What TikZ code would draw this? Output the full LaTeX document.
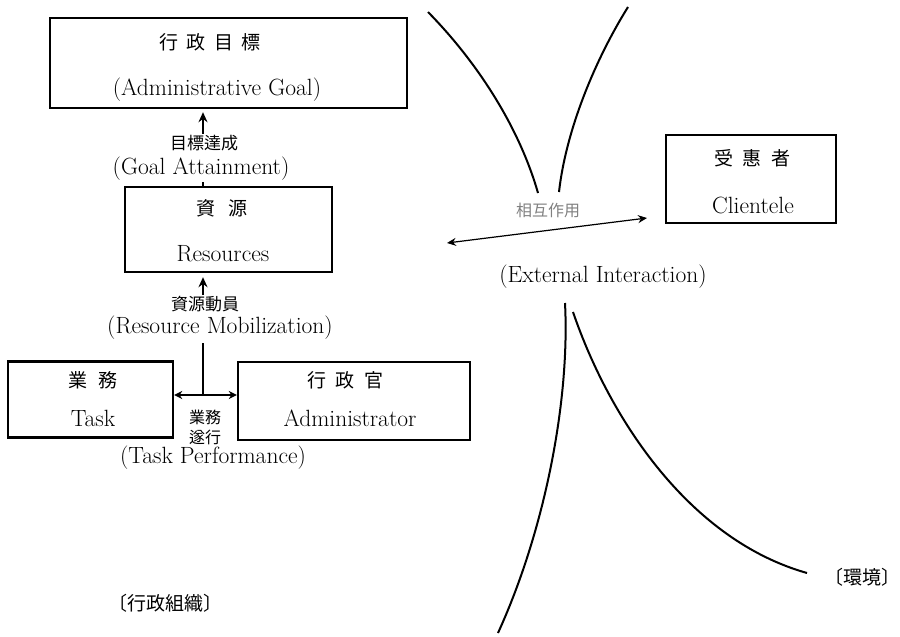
\documentclass[tikz,border=0pt]{standalone}
\usepackage{fontspec}
\newfontfamily\cjk{Noto Sans CJK KR}
\usetikzlibrary{arrows.meta}
\begin{document}
\begin{tikzpicture}[x=1pt,y=-1pt,
  box/.style={draw,line width=2.4pt,inner sep=0pt},
  lbl/.style={inner sep=0pt,font=\fontsize{23.5}{26}\selectfont},
  cj/.style={inner sep=0pt,font=\cjk\fontsize{19}{21}\selectfont},
  cjl/.style={inner sep=0pt,font=\cjk\fontsize{17}{19}\selectfont},
  cjs/.style={inner sep=0pt,font=\cjk\fontsize{16}{18}\selectfont},
  conn/.style={line width=1.6pt},
  arr/.style={line width=1.6pt,-{Stealth[length=10pt,width=9pt]}},
  curve/.style={line width=2pt}]
\useasboundingbox (0,0) rectangle (900,637);
% boxes
\node[box,minimum width=357pt,minimum height=90pt] (goal) at (228.5,63) {};
\node[box,minimum width=207pt,minimum height=85pt] (res) at (228.5,229.5) {};
\node[box,minimum width=165pt,minimum height=76pt] (task) at (90.5,399.5) {};
\node[box,minimum width=232pt,minimum height=78pt] (adm) at (354,401) {};
\node[box,minimum width=170pt,minimum height=88pt] (cli) at (751,179) {};
% texts in boxes
\node[cj] (t1) at (210,42) {行\hspace{0.45em}政\hspace{0.45em}目\hspace{0.45em}標};
\node[lbl] (t2) at (217,90) {(Administrative Goal)};
\node[cj] (t3) at (222,208) {資\hspace{0.7em}源};
\node[lbl] (t4) at (223,254) {Resources};
\node[cj] (t5) at (93,380) {業\hspace{0.6em}務};
\node[lbl] (t6) at (93,418) {Task};
\node[cj] (t7) at (345,380) {行\hspace{0.5em}政\hspace{0.5em}官};
\node[lbl] (t8) at (350,418) {Administrator};
\node[cj] (t9) at (752,158) {受\hspace{0.5em}惠\hspace{0.5em}者};
\node[lbl] (t10) at (753,205) {Clientele};
% connector labels
\node[cjl] (l1) at (204,143) {目標達成};
\node[lbl] (l2) at (201,169) {(Goal Attainment)};
\node[cjl] (l3) at (205,304) {資源動員};
\node[lbl] (l4) at (220,328) {(Resource Mobilization)};
\node[cjs,align=center,font=\cjk\fontsize{16}{20}\selectfont] (l5) at (205,427) {業務\\遂行};
\node[lbl] (l6) at (213,458) {(Task Performance)};
\node[cjs,text=gray] (l7) at (548,210) {相互作用};
\node[lbl] (l8) at (603,277) {(External Interaction)};
\node[cj] (l9) at (165,603) {〔行政組織〕};
\node[cj] (l10) at (862,577) {〔環境〕};
% connectors
\coordinate (ga) at (203,196);
\draw[conn] (ga |- res.north) -- ([yshift=-1pt]ga |- l2.south);
\draw[arr,shorten >=3pt] ([yshift=1pt]ga |- l1.north) -- (ga |- goal.south);
\coordinate (rm) at (203,295);
\draw[arr,shorten >=4pt] ([yshift=1pt]rm |- l3.north) -- (rm |- res.south);
\coordinate (jn) at (203,395);
\coordinate (jt) at (203,343);
\draw[conn] (jn) -- (jt);
\draw[conn,{Stealth[length=8pt,width=8pt]}-{Stealth[length=8pt,width=8pt]}] (task.east |- jn) -- (adm.west |- jn);
\coordinate (ei1) at (447,243);
\coordinate (ei2) at (647,218);
\draw[line width=1.2pt,{Stealth[length=9pt,width=8pt]}-{Stealth[length=9pt,width=8pt]}] (ei1) -- (ei2);
% environment curves
\draw[curve] (428,12) .. controls (480,65) and (520,130) .. (538,193);
\draw[curve] (628,7) .. controls (595,60) and (566,130) .. (559,192);
\draw[curve] (565,303) .. controls (570,400) and (545,530) .. (498,633);
\draw[curve] (573,312) .. controls (610,420) and (690,540) .. (807,573);
\end{tikzpicture}
\end{document}
